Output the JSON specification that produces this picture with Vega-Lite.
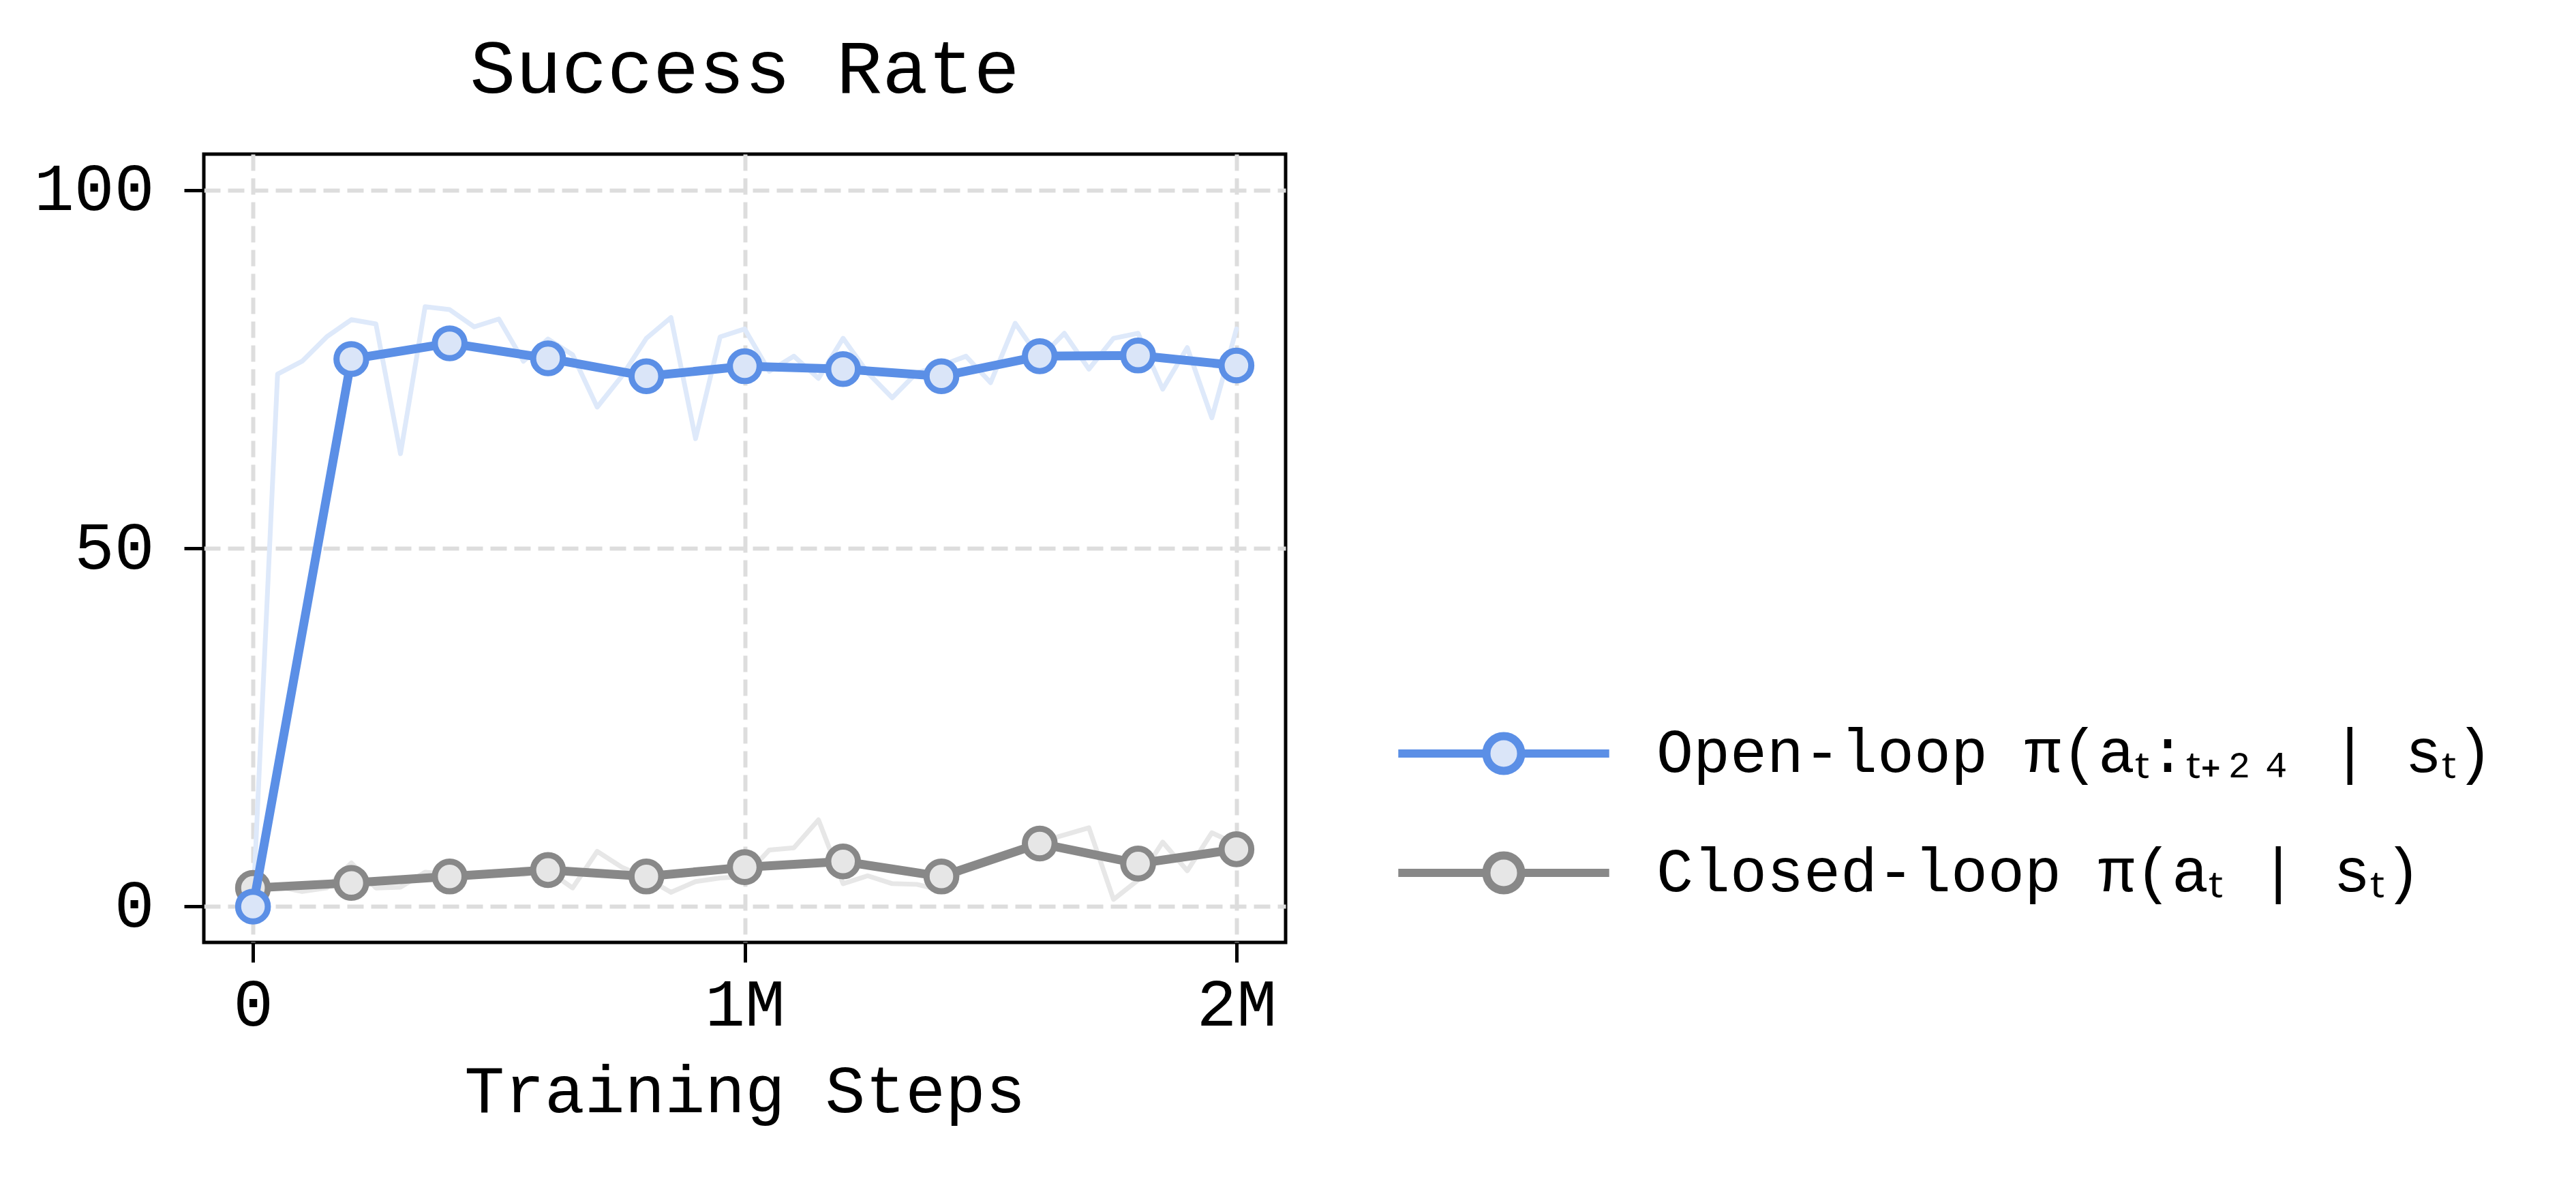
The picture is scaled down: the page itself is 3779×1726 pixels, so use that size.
{
  "$schema": "https://vega.github.io/schema/vega-lite/v6.json",
  "width": 1587,
  "height": 1156,
  "autosize": {"type": "none"},
  "padding": {"left": 299, "top": 226, "right": 1893, "bottom": 344},
  "background": "white",
  "title": {
    "text": "Success Rate",
    "font": "Liberation Mono",
    "fontSize": 112,
    "fontWeight": "normal",
    "color": "black",
    "anchor": "middle",
    "baseline": "alphabetic",
    "offset": -22
  },
  "config": {
    "font": "Liberation Mono",
    "view": {"stroke": "black", "strokeWidth": 5},
    "axis": {
      "domain": false,
      "grid": true,
      "gridColor": "#dddddd",
      "gridDash": [24, 11],
      "gridWidth": 6,
      "ticks": true,
      "tickColor": "black",
      "tickWidth": 5,
      "tickSize": 29,
      "labelFont": "Liberation Mono",
      "labelFontSize": 98,
      "labelColor": "black",
      "titleFont": "Liberation Mono",
      "titleFontSize": 98,
      "titleFontWeight": "normal",
      "titleColor": "black"
    }
  },
  "datasets": {
    "avg": [
      {"step": 0, "rate": 2.6, "series": "Closed-loop π(aₜ | sₜ)"},
      {"step": 200000, "rate": 3.3, "series": "Closed-loop π(aₜ | sₜ)"},
      {"step": 400000, "rate": 4.2, "series": "Closed-loop π(aₜ | sₜ)"},
      {"step": 600000, "rate": 5.1, "series": "Closed-loop π(aₜ | sₜ)"},
      {"step": 800000, "rate": 4.2, "series": "Closed-loop π(aₜ | sₜ)"},
      {"step": 1000000, "rate": 5.5, "series": "Closed-loop π(aₜ | sₜ)"},
      {"step": 1200000, "rate": 6.3, "series": "Closed-loop π(aₜ | sₜ)"},
      {"step": 1400000, "rate": 4.2, "series": "Closed-loop π(aₜ | sₜ)"},
      {"step": 1600000, "rate": 8.8, "series": "Closed-loop π(aₜ | sₜ)"},
      {"step": 1800000, "rate": 6.0, "series": "Closed-loop π(aₜ | sₜ)"},
      {"step": 2000000, "rate": 8.0, "series": "Closed-loop π(aₜ | sₜ)"},
      {"step": 0, "rate": 0, "series": "Open-loop π(aₜ:ₜ₊₂₄ | sₜ)"},
      {"step": 200000, "rate": 76.4, "series": "Open-loop π(aₜ:ₜ₊₂₄ | sₜ)"},
      {"step": 400000, "rate": 78.6, "series": "Open-loop π(aₜ:ₜ₊₂₄ | sₜ)"},
      {"step": 600000, "rate": 76.5, "series": "Open-loop π(aₜ:ₜ₊₂₄ | sₜ)"},
      {"step": 800000, "rate": 74.0, "series": "Open-loop π(aₜ:ₜ₊₂₄ | sₜ)"},
      {"step": 1000000, "rate": 75.4, "series": "Open-loop π(aₜ:ₜ₊₂₄ | sₜ)"},
      {"step": 1200000, "rate": 75.0, "series": "Open-loop π(aₜ:ₜ₊₂₄ | sₜ)"},
      {"step": 1400000, "rate": 74.0, "series": "Open-loop π(aₜ:ₜ₊₂₄ | sₜ)"},
      {"step": 1600000, "rate": 76.8, "series": "Open-loop π(aₜ:ₜ₊₂₄ | sₜ)"},
      {"step": 1800000, "rate": 76.9, "series": "Open-loop π(aₜ:ₜ₊₂₄ | sₜ)"},
      {"step": 2000000, "rate": 75.5, "series": "Open-loop π(aₜ:ₜ₊₂₄ | sₜ)"}
    ],
    "raw": [
      {"step": 0, "rate": 2.6, "series": "closed"},
      {"step": 50000, "rate": 2.8, "series": "closed"},
      {"step": 100000, "rate": 2.1, "series": "closed"},
      {"step": 150000, "rate": 2.6, "series": "closed"},
      {"step": 200000, "rate": 6.1, "series": "closed"},
      {"step": 250000, "rate": 2.6, "series": "closed"},
      {"step": 300000, "rate": 2.7, "series": "closed"},
      {"step": 350000, "rate": 4.8, "series": "closed"},
      {"step": 400000, "rate": 4.5, "series": "closed"},
      {"step": 450000, "rate": 4.5, "series": "closed"},
      {"step": 500000, "rate": 4.5, "series": "closed"},
      {"step": 550000, "rate": 4.5, "series": "closed"},
      {"step": 600000, "rate": 5.0, "series": "closed"},
      {"step": 650000, "rate": 2.6, "series": "closed"},
      {"step": 700000, "rate": 7.7, "series": "closed"},
      {"step": 750000, "rate": 5.5, "series": "closed"},
      {"step": 800000, "rate": 4.0, "series": "closed"},
      {"step": 850000, "rate": 2.0, "series": "closed"},
      {"step": 900000, "rate": 3.5, "series": "closed"},
      {"step": 950000, "rate": 4.0, "series": "closed"},
      {"step": 1000000, "rate": 4.2, "series": "closed"},
      {"step": 1050000, "rate": 7.9, "series": "closed"},
      {"step": 1100000, "rate": 8.2, "series": "closed"},
      {"step": 1150000, "rate": 12.1, "series": "closed"},
      {"step": 1200000, "rate": 3.2, "series": "closed"},
      {"step": 1250000, "rate": 4.3, "series": "closed"},
      {"step": 1300000, "rate": 3.2, "series": "closed"},
      {"step": 1350000, "rate": 3.1, "series": "closed"},
      {"step": 1400000, "rate": 2.3, "series": "closed"},
      {"step": 1450000, "rate": 5.5, "series": "closed"},
      {"step": 1500000, "rate": 6.5, "series": "closed"},
      {"step": 1550000, "rate": 7.7, "series": "closed"},
      {"step": 1600000, "rate": 9.0, "series": "closed"},
      {"step": 1650000, "rate": 10.0, "series": "closed"},
      {"step": 1700000, "rate": 11.0, "series": "closed"},
      {"step": 1750000, "rate": 1.0, "series": "closed"},
      {"step": 1800000, "rate": 3.7, "series": "closed"},
      {"step": 1850000, "rate": 9.0, "series": "closed"},
      {"step": 1900000, "rate": 5.0, "series": "closed"},
      {"step": 1950000, "rate": 10.3, "series": "closed"},
      {"step": 2000000, "rate": 8.7, "series": "closed"},
      {"step": 0, "rate": 0, "series": "open"},
      {"step": 50000, "rate": 74.3, "series": "open"},
      {"step": 100000, "rate": 76.1, "series": "open"},
      {"step": 150000, "rate": 79.5, "series": "open"},
      {"step": 200000, "rate": 81.9, "series": "open"},
      {"step": 250000, "rate": 81.3, "series": "open"},
      {"step": 300000, "rate": 63.2, "series": "open"},
      {"step": 350000, "rate": 83.7, "series": "open"},
      {"step": 400000, "rate": 83.3, "series": "open"},
      {"step": 450000, "rate": 80.9, "series": "open"},
      {"step": 500000, "rate": 82.0, "series": "open"},
      {"step": 550000, "rate": 76.1, "series": "open"},
      {"step": 600000, "rate": 79.2, "series": "open"},
      {"step": 650000, "rate": 77.0, "series": "open"},
      {"step": 700000, "rate": 69.7, "series": "open"},
      {"step": 750000, "rate": 74.0, "series": "open"},
      {"step": 800000, "rate": 79.3, "series": "open"},
      {"step": 850000, "rate": 82.2, "series": "open"},
      {"step": 900000, "rate": 65.3, "series": "open"},
      {"step": 950000, "rate": 79.5, "series": "open"},
      {"step": 1000000, "rate": 80.6, "series": "open"},
      {"step": 1050000, "rate": 74.7, "series": "open"},
      {"step": 1100000, "rate": 76.8, "series": "open"},
      {"step": 1150000, "rate": 73.7, "series": "open"},
      {"step": 1200000, "rate": 79.3, "series": "open"},
      {"step": 1250000, "rate": 74.5, "series": "open"},
      {"step": 1300000, "rate": 71.0, "series": "open"},
      {"step": 1350000, "rate": 74.5, "series": "open"},
      {"step": 1400000, "rate": 75.5, "series": "open"},
      {"step": 1450000, "rate": 76.8, "series": "open"},
      {"step": 1500000, "rate": 73.1, "series": "open"},
      {"step": 1550000, "rate": 81.4, "series": "open"},
      {"step": 1600000, "rate": 76.5, "series": "open"},
      {"step": 1650000, "rate": 80.0, "series": "open"},
      {"step": 1700000, "rate": 75.0, "series": "open"},
      {"step": 1750000, "rate": 79.3, "series": "open"},
      {"step": 1800000, "rate": 80.0, "series": "open"},
      {"step": 1850000, "rate": 72.2, "series": "open"},
      {"step": 1900000, "rate": 78.0, "series": "open"},
      {"step": 1950000, "rate": 68.2, "series": "open"},
      {"step": 2000000, "rate": 80.6, "series": "open"}
    ]
  },
  "encoding": {
    "x": {
      "field": "step",
      "type": "quantitative",
      "scale": {"domain": [-100000, 2100000], "nice": false, "zero": false},
      "axis": {
        "title": "Training Steps",
        "values": [0, 1000000, 2000000],
        "labelExpr": "datum.value == 0 ? '0' : format(datum.value / 1000000, 'd') + 'M'",
        "labelPadding": 15,
        "titlePadding": 30
      }
    },
    "y": {
      "field": "rate",
      "type": "quantitative",
      "scale": {"domain": [-5, 105], "nice": false, "zero": false},
      "axis": {
        "title": null,
        "values": [0, 50, 100],
        "labelPadding": 44
      }
    }
  },
  "layer": [
    {
      "data": {"name": "raw"},
      "mark": {"type": "line", "strokeWidth": 7, "strokeJoin": "round", "strokeCap": "round"},
      "encoding": {
        "detail": {"field": "series"},
        "color": {
          "condition": {"test": "datum.series == 'open'", "value": "#dee9fa"},
          "value": "#e7e7e7"
        }
      }
    },
    {
      "data": {"name": "avg"},
      "transform": [{"filter": "indexof(datum.series, 'Closed') == 0"}],
      "mark": {"type": "line", "strokeWidth": 13},
      "encoding": {
        "stroke": {
          "field": "series",
          "type": "nominal",
          "scale": {
            "domain": ["Open-loop π(aₜ:ₜ₊₂₄ | sₜ)", "Closed-loop π(aₜ | sₜ)"],
            "range": ["#5b8fe6", "#888888"]
          },
          "legend": {
            "title": null,
            "orient": "none",
            "legendX": 1816,
            "legendY": 788,
            "symbolType": "M-1.82,0L-0.3,0M0.3,0L1.82,0M0.3,0A0.3,0.3,0,1,1,-0.3,0A0.3,0.3,0,1,1,0.3,0Z",
            "symbolSize": 28900,
            "symbolStrokeWidth": 12,
            "symbolOpacity": 1,
            "labelFont": "Liberation Mono",
            "labelFontSize": 90,
            "labelColor": "black",
            "labelLimit": 3000,
            "labelOffset": 133,
            "rowPadding": 34
          }
        }
      }
    },
    {
      "data": {"name": "avg"},
      "transform": [{"filter": "indexof(datum.series, 'Closed') == 0"}],
      "mark": {"type": "point", "filled": false, "size": 1900, "strokeWidth": 9, "opacity": 1},
      "encoding": {
        "stroke": {"field": "series", "type": "nominal"},
        "fill": {
          "field": "series",
          "type": "nominal",
          "scale": {
            "domain": ["Open-loop π(aₜ:ₜ₊₂₄ | sₜ)", "Closed-loop π(aₜ | sₜ)"],
            "range": ["#dae5f8", "#e6e6e6"]
          }
        }
      }
    },
    {
      "data": {"name": "avg"},
      "transform": [{"filter": "indexof(datum.series, 'Open') == 0"}],
      "mark": {"type": "line", "strokeWidth": 13},
      "encoding": {
        "stroke": {"field": "series", "type": "nominal"}
      }
    },
    {
      "data": {"name": "avg"},
      "transform": [{"filter": "indexof(datum.series, 'Open') == 0"}],
      "mark": {"type": "point", "filled": false, "size": 1900, "strokeWidth": 9, "opacity": 1},
      "encoding": {
        "stroke": {"field": "series", "type": "nominal"},
        "fill": {"field": "series", "type": "nominal"}
      }
    }
  ]
}
